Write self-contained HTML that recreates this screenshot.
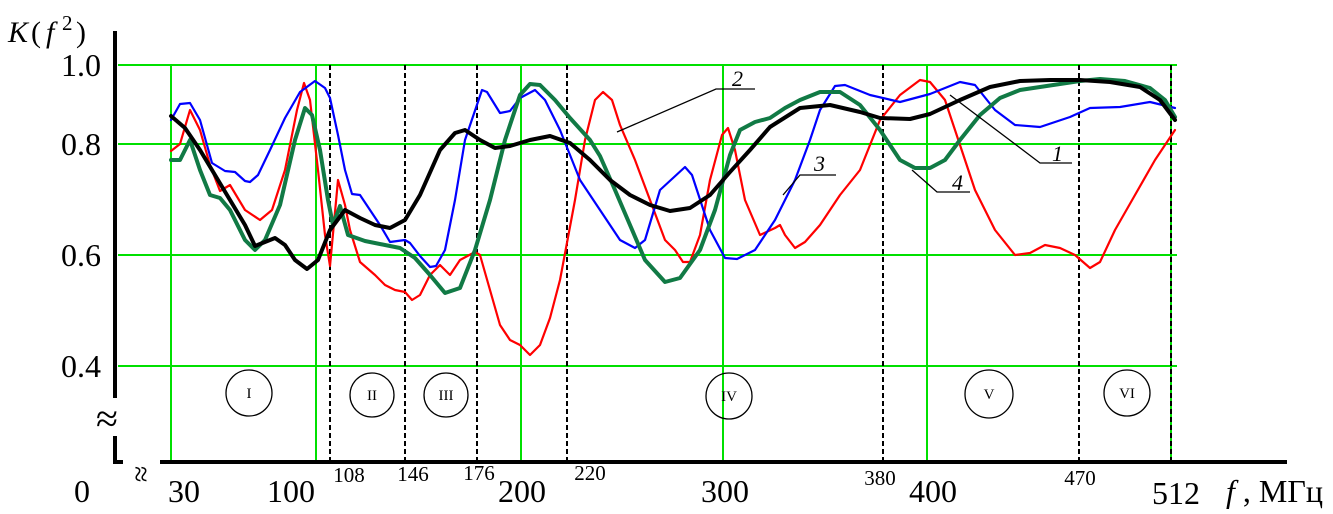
<!DOCTYPE html>
<html><head><meta charset="utf-8"><style>html,body{margin:0;padding:0;background:#fff}svg{display:block}</style></head><body>
<svg width="1333" height="514" viewBox="0 0 1333 514" xmlns="http://www.w3.org/2000/svg" font-family="Liberation Serif, serif">
<g stroke="#00e000" stroke-width="2" fill="none">
<line x1="118" y1="65" x2="1177" y2="65"/><line x1="118" y1="144" x2="1177" y2="144"/>
<line x1="118" y1="255" x2="1177" y2="255"/><line x1="118" y1="366" x2="1177" y2="366"/>
<line x1="171" y1="65" x2="171" y2="462"/><line x1="316" y1="65" x2="316" y2="462"/>
<line x1="521" y1="65" x2="521" y2="462"/><line x1="723" y1="65" x2="723" y2="462"/>
<line x1="927" y1="65" x2="927" y2="462"/><line x1="1171" y1="65" x2="1171" y2="462"/>
</g>
<g stroke="#000" stroke-width="2" stroke-dasharray="5,3">
<line x1="330" y1="65" x2="330" y2="462"/><line x1="405" y1="65" x2="405" y2="462"/>
<line x1="477" y1="65" x2="477" y2="462"/><line x1="567" y1="65" x2="567" y2="462"/>
<line x1="883" y1="65" x2="883" y2="462"/><line x1="1079" y1="65" x2="1079" y2="462"/>
<line x1="1171" y1="65" x2="1171" y2="462"/>
</g>
<g stroke="#000" stroke-width="4" fill="none">
<line x1="115" y1="31" x2="115" y2="398"/><polyline points="115,436 115,462 123,462"/>
<line x1="160" y1="462" x2="1287" y2="462"/>
</g>
<text x="96" y="432" font-size="40">≈</text>
<text x="143" y="478" font-size="30" transform="rotate(90 143 466)">≈</text>
<g fill="none" stroke-linejoin="round" stroke-linecap="round">
<polyline stroke="#ff0000" stroke-width="2.2" points="171,151 180,144 190,110 200,130 210,165 220,191 230,185 245,210 260,220 272,210 285,170 297,110 304,83 310,100 318,170 325,235 330,266 338,180 345,205 350,230 360,262 375,275 385,285 395,290 405,292 412,300 420,295 430,275 440,265 450,275 460,260 475,252 480,255 490,290 500,325 510,340 520,345 530,355 540,345 550,318 560,280 575,200 585,140 595,100 603,92 612,100 620,125 635,160 650,200 665,240 675,250 683,262 690,262 700,235 710,180 722,135 728,128 735,150 745,200 760,235 775,228 780,225 785,235 795,248 805,242 820,225 840,195 860,170 880,120 900,95 920,80 930,82 945,100 960,145 975,190 995,230 1015,255 1030,253 1045,245 1060,248 1075,255 1090,268 1100,262 1115,230 1135,195 1155,160 1175,130"/>
<polyline stroke="#0000ff" stroke-width="2.2" points="171,120 180,104 190,103 200,120 212,163 225,171 235,172 245,181 250,182 258,175 270,150 285,118 300,92 315,81 325,88 330,98 338,135 345,170 352,194 360,195 370,210 380,225 390,242 405,240 410,243 420,256 430,267 436,266 445,250 455,200 465,140 482,90 487,92 500,113 510,111 520,98 535,90 545,100 560,130 580,180 600,210 620,240 635,248 645,240 660,190 685,167 692,175 710,230 725,258 737,259 755,250 775,220 795,180 810,140 820,110 835,86 845,85 870,95 900,102 930,94 960,82 975,85 995,110 1015,125 1040,127 1070,117 1090,108 1120,107 1150,102 1175,108"/>
<polyline stroke="#117a45" stroke-width="4" points="171,160 180,160 190,140 200,170 210,195 220,198 230,210 245,240 255,250 265,240 280,205 295,140 305,108 312,115 320,150 328,200 333,225 340,206 348,235 365,241 385,245 400,248 415,258 430,275 445,293 460,288 475,250 490,200 505,140 520,95 530,84 540,85 555,100 570,118 590,140 600,156 615,190 630,225 645,260 665,282 680,278 700,250 715,210 730,155 740,130 755,122 770,118 785,108 800,100 820,92 840,92 860,105 880,130 900,160 915,168 930,168 945,160 960,140 980,115 1000,98 1020,90 1040,87 1060,84 1080,81 1100,79 1125,81 1150,88 1165,100 1175,117"/>
<polyline stroke="#000" stroke-width="4" points="171,116 185,128 200,150 215,175 230,200 245,225 255,246 265,242 275,238 285,245 295,260 307,269 318,260 330,230 345,210 360,218 375,225 390,228 405,220 420,195 440,150 455,133 465,130 480,140 495,148 510,146 530,140 550,136 570,143 590,160 610,180 630,195 650,205 670,211 690,208 710,195 730,172 750,150 770,127 800,108 830,105 860,112 880,118 910,119 930,114 960,100 990,87 1020,81 1050,80 1080,80 1110,82 1140,87 1160,100 1175,120"/>
</g>
<g stroke="#000" stroke-width="1.3" fill="none">
<polyline points="617,132 716,89 755,89"/><polyline points="783,195 800,175 836,175"/>
<polyline points="950,95 1040,163 1072,163"/><polyline points="912,170 937,192 970,192"/>
</g>
<g font-size="22" font-style="italic"><text x="732" y="86">2</text><text x="814" y="171">3</text><text x="1052" y="161">1</text><text x="952" y="190">4</text></g>
<g stroke="#000" stroke-width="1.3" fill="none">
<circle cx="249" cy="393" r="23"/><circle cx="372" cy="395" r="22"/><circle cx="446" cy="395" r="22"/>
<circle cx="729" cy="396" r="23"/><circle cx="989" cy="394" r="24"/><circle cx="1127" cy="393" r="23"/>
</g>
<g font-size="15" text-anchor="middle"><text x="249" y="398">I</text><text x="372" y="400">II</text><text x="446" y="400">III</text><text x="729" y="401">IV</text><text x="989" y="399">V</text><text x="1127" y="398">VI</text></g>
<text x="8" y="42" font-size="30" font-style="italic">K</text><text x="31" y="42" font-size="30">(</text><text x="46" y="42" font-size="30" font-style="italic">f</text><text x="62" y="30" font-size="21">2</text><text x="76" y="42" font-size="30">)</text>
<g font-size="32" text-anchor="end"><text x="101" y="76">1.0</text><text x="101" y="155">0.8</text><text x="101" y="266">0.6</text><text x="101" y="377">0.4</text></g>
<g font-size="32" text-anchor="middle"><text x="82" y="502">0</text><text x="184" y="502">30</text><text x="291" y="502">100</text><text x="522" y="502">200</text><text x="725" y="502">300</text><text x="933" y="502">400</text><text x="1176" y="504">512</text></g>
<g font-size="21" text-anchor="middle"><text x="349" y="482">108</text><text x="413" y="481">146</text><text x="479" y="480">176</text><text x="590" y="480">220</text><text x="880" y="485">380</text><text x="1080" y="485">470</text></g>
<text x="1226" y="502" font-size="32"><tspan font-style="italic">f</tspan> , МГц</text>
</svg>
</body></html>
